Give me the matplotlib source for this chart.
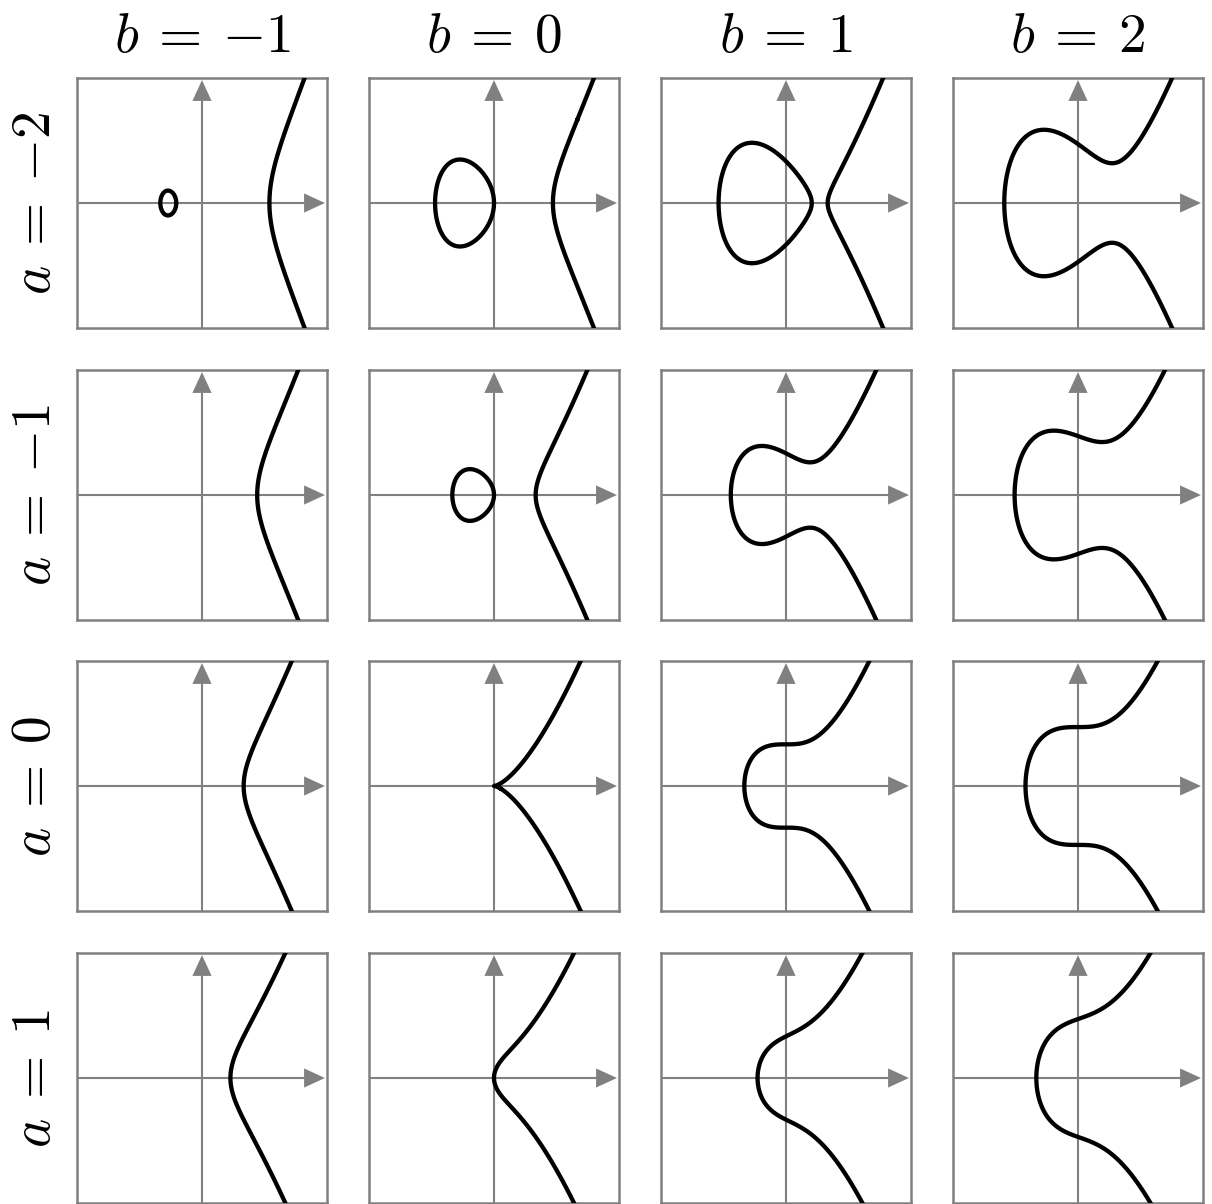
import numpy as np
import matplotlib
matplotlib.use("Agg")
import matplotlib.pyplot as plt

plt.rcParams['mathtext.fontset'] = 'cm'

# Curves y^2 = x^3 + a x + b
a_values = [-2, -1, 0, 1]      # rows
b_values = [-1, 0, 1, 2]       # columns
x_range = (-3.0, 3.0)
y_range = (-3.0, 3.0)

W, H = 1212, 1204
fig = plt.figure(figsize=(W / 100, H / 100), dpi=100)

col_left_px = [77, 369, 661, 953]
row_top_px = [78, 370, 661, 953]
size_px = 250
gray = '#808080'

xs = np.linspace(x_range[0] - 0.2, x_range[1] + 0.2, 1201)
ys = np.linspace(y_range[0] - 0.2, y_range[1] + 0.2, 1201)
X, Y = np.meshgrid(xs, ys)

for i, a in enumerate(a_values):
    for j, b in enumerate(b_values):
        left = col_left_px[j] / W
        bottom = 1 - (row_top_px[i] + size_px) / H
        ax = fig.add_axes([left, bottom, size_px / W, size_px / H])
        ax.set_xlim(*x_range)
        ax.set_ylim(*y_range)
        ax.set_xticks([])
        ax.set_yticks([])
        for s in ax.spines.values():
            s.set_color(gray)
            s.set_linewidth(1.8)
        # axes with arrows
        ax.arrow(x_range[0], 0, (x_range[1] - x_range[0]) - 0.05, 0,
                 width=0.05, head_width=0.46, head_length=0.5,
                 length_includes_head=True, color=gray, lw=0, zorder=1)
        ax.arrow(0, y_range[0], 0, (y_range[1] - y_range[0]) - 0.05,
                 width=0.05, head_width=0.46, head_length=0.5,
                 length_includes_head=True, color=gray, lw=0, zorder=1)
        F = Y**2 - X**3 - a * X - b
        ax.contour(X, Y, F, levels=[0], colors='black', linewidths=3.1,
                   zorder=3)

# column titles
for j, b in enumerate(b_values):
    cx = (col_left_px[j] + size_px / 2) / W
    fig.text(cx, 1 - 52 / H, r'$b\:=\:{%d}$' % b, ha='center', va='baseline',
             fontsize=40)

# row labels
for i, a in enumerate(a_values):
    cy = 1 - (row_top_px[i] + size_px / 2) / H
    fig.text(35 / W, cy, r'$a\:=\:{%d}$' % a, ha='center', va='center',
             rotation=90, fontsize=40)

fig.savefig('out.png', dpi=100)
